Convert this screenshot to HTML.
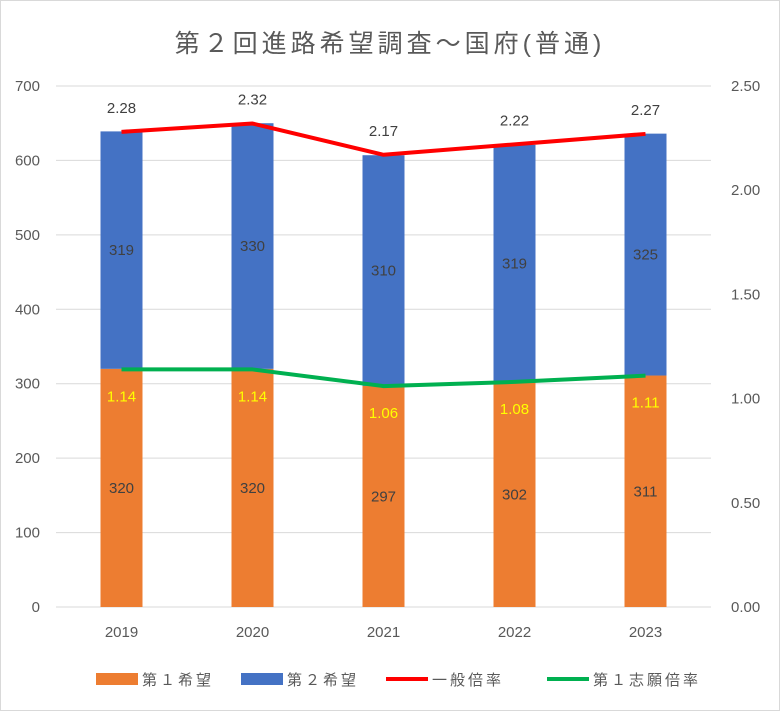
<!DOCTYPE html>
<html><head><meta charset="utf-8"><style>
body{margin:0;background:#fff;}
svg{display:block;font-family:"Liberation Sans","Noto Sans CJK JP",sans-serif;}
</style></head><body>
<svg id="chart" width="780" height="711">
<rect x="0.5" y="0.5" width="779" height="710" fill="#fff" stroke="#d9d9d9"/>
<text x="390" y="52" text-anchor="middle" font-size="25" letter-spacing="4" fill="#595959">第２回進路希望調査～国府(普通)</text>
<g id="grid"></g><g id="bars"></g><g id="lines"></g><g id="labels"></g>
<g font-size="15" fill="#595959" letter-spacing="3">
<rect x="96" y="673" width="42" height="12" fill="#ED7D31"/>
<text x="142" y="685">第１希望</text>
<rect x="241" y="673" width="42" height="12" fill="#4472C4"/>
<text x="287" y="685">第２希望</text>
<line x1="386" y1="679" x2="428" y2="679" stroke="#FF0000" stroke-width="4"/>
<text x="432" y="685">一般倍率</text>
<line x1="547" y1="679" x2="589" y2="679" stroke="#00B050" stroke-width="4"/>
<text x="593" y="685">第１志願倍率</text>
</g>
</svg>
<script>
const categories=["2019","2020","2021","2022","2023"];
const firstChoice=[320,320,297,302,311];
const secondChoice=[319,330,310,319,325];
const generalRatio=[2.28,2.32,2.17,2.22,2.27];
const firstRatio=[1.14,1.14,1.06,1.08,1.11];
const leftTicks=[0,100,200,300,400,500,600,700];
const rightTicks=["0.00","0.50","1.00","1.50","2.00","2.50"];
const NS="http://www.w3.org/2000/svg";
const X0=56,X1=711,Y0=607,Y1=86;
const yL=v=>Y0-(v/700)*(Y0-Y1);
const yR=v=>Y0-(v/2.5)*(Y0-Y1);
const band=(X1-X0)/categories.length;
const xC=i=>X0+band*(i+0.5);
function mk(tag,attrs,parent,txt){const e=document.createElementNS(NS,tag);for(const k in attrs)e.setAttribute(k,attrs[k]);if(txt!==undefined)e.textContent=txt;document.getElementById(parent).appendChild(e);return e;}
leftTicks.forEach(t=>{
  const g=mk('line',{x1:X0,x2:X1,y1:yL(t),y2:yL(t),stroke:'#d9d9d9','stroke-width':1},'grid');
  
  
  const l=mk('text',{x:40,y:yL(t)+5,'text-anchor':'end','font-size':15,fill:'#595959'},'grid',t);
  
  
});
rightTicks.forEach(t=>{
  const l=mk('text',{x:731,y:yR(parseFloat(t))+5,'font-size':15,fill:'#595959'},'grid',t);
  
  
});
const bw=42;
categories.forEach((c,i)=>{
  const x=xC(i)-bw/2;
  const b1=mk('rect',{x:x,y:yL(firstChoice[i]),width:bw,height:Y0-yL(firstChoice[i]),fill:'#ED7D31'},'bars');
  
  
  const tot=firstChoice[i]+secondChoice[i];
  const b2=mk('rect',{x:x,y:yL(tot),width:bw,height:yL(firstChoice[i])-yL(tot),fill:'#4472C4'},'bars');
  
  
  const t1=mk('text',{x:xC(i),y:(yL(firstChoice[i])+Y0)/2+5,'text-anchor':'middle','font-size':15,fill:'#404040'},'labels',firstChoice[i]);
  
  
  const t2=mk('text',{x:xC(i),y:(yL(firstChoice[i])+yL(tot))/2+5,'text-anchor':'middle','font-size':15,fill:'#404040'},'labels',secondChoice[i]);
  
  
  const ct=mk('text',{x:xC(i),y:637,'text-anchor':'middle','font-size':15,fill:'#595959'},'labels',c);
  
  
  const g=mk('text',{x:xC(i),y:yR(generalRatio[i])-19,'text-anchor':'middle','font-size':15,fill:'#404040'},'labels',generalRatio[i].toFixed(2));
  
  
  const f=mk('text',{x:xC(i),y:yR(firstRatio[i])+32,'text-anchor':'middle','font-size':15,fill:'#FFFF00'},'labels',firstRatio[i].toFixed(2));
  
  
});
const l1=mk('polyline',{points:generalRatio.map((v,i)=>xC(i)+','+yR(v)).join(' '),fill:'none',stroke:'#FF0000','stroke-width':4,'stroke-linejoin':'round'},'lines');


const l2=mk('polyline',{points:firstRatio.map((v,i)=>xC(i)+','+yR(v)).join(' '),fill:'none',stroke:'#00B050','stroke-width':4,'stroke-linejoin':'round'},'lines');


</script>
</body></html>
